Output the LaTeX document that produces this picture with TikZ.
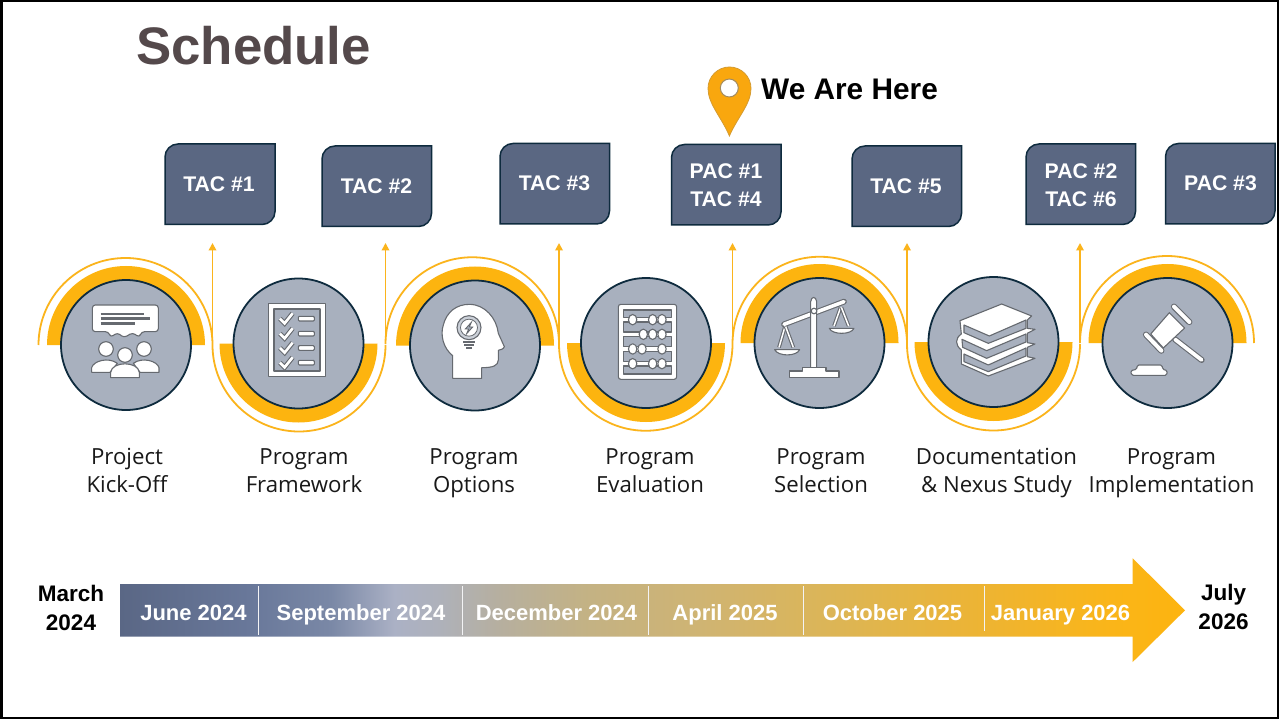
\documentclass[tikz,border=0pt]{standalone}
\usepackage{fontspec}
\setmainfont{Liberation Sans}
\newfontfamily\labelfont{Open Sans}
\usetikzlibrary{arrows.meta,calc}
\definecolor{goldc}{HTML}{FDB40F}
\definecolor{wavec}{HTML}{FBB41C}
\definecolor{boxfill}{HTML}{5A6782}
\definecolor{boxline}{HTML}{0E2B3E}
\definecolor{disc}{HTML}{A8B0BE}
\definecolor{iconline}{HTML}{666A70}
\definecolor{titlec}{HTML}{54494B}
\definecolor{pinc}{HTML}{F9A70E}
\definecolor{tlA}{HTML}{5A6785}\definecolor{tlB}{HTML}{69789A}\definecolor{tlC}{HTML}{7A88A6}
\definecolor{tlD}{HTML}{ABB1C5}\definecolor{tlE}{HTML}{AEB1BA}\definecolor{tlF}{HTML}{B6AF9F}
\definecolor{tlG}{HTML}{C4B283}\definecolor{tlH}{HTML}{CFB473}\definecolor{tlI}{HTML}{DEB552}
\definecolor{tlJ}{HTML}{EFB42F}\definecolor{tlK}{HTML}{FAB519}\definecolor{tlL}{HTML}{FDB40F}
\pgfdeclarehorizontalshading{timeline}{100bp}{color(0bp)=(tlA);color(25bp)=(tlA);color(31.1bp)=(tlB);color(34.9bp)=(tlC);color(37.9bp)=(tlD);color(40bp)=(tlE);color(42.8bp)=(tlF);color(47.1bp)=(tlG);color(52.2bp)=(tlH);color(59.3bp)=(tlI);color(66.3bp)=(tlJ);color(71.5bp)=(tlK);color(75bp)=(tlL);color(100bp)=(tlL)}
\tikzset{
  disc node/.style={circle,draw=boxline,line width=1.8pt,fill=disc,minimum size=130pt,inner sep=0pt},
  wave/.style={draw=wavec,line width=1.8pt},
  riser/.style={draw=wavec,line width=1.8pt,-{Triangle[width=7.5pt,length=7.5pt]}},
  box text/.style={text=white,font=\fontsize{21.2}{28.5}\selectfont\bfseries,align=center,inner sep=0pt},
  step label/.style={text=black!90,font=\labelfont\fontsize{22.2}{27.5}\selectfont,align=center,inner sep=0pt,
    execute at begin node={\rule{0pt}{16pt}},execute at end node={\rule[-6pt]{0pt}{6pt}}},
  tl label/.style={text=white,font=\fontsize{22}{25}\selectfont\bfseries,inner sep=0pt,anchor=base},
  end label/.style={text=black,font=\fontsize{22.5}{29}\selectfont\bfseries,align=center,inner sep=0pt},
  sep/.style={draw=white!85!tlE,line width=1pt},
  ic/.style={draw=iconline,line width=1.1pt,fill=white,line join=round},
  icg/.style={draw=iconline,line width=1.1pt,fill=disc,line join=round},
  icl/.style={draw=iconline,line width=2.5pt},
  bar/.style={draw=iconline,line width=1.1pt,double=white,double distance=#1,line cap=round},
  iconzoom/.style={shift={#1},x=.3333pt,y=-.3333pt},
}
\newcommand{\goldup}[1]{\fill[goldc] ([xshift=-79pt]#1) arc[start angle=180,end angle=0,radius=79pt] -- ([xshift=60pt]#1) arc[start angle=0,end angle=180,radius=60pt] -- cycle;}
\newcommand{\golddown}[1]{\fill[goldc] ([xshift=-79pt]#1) arc[start angle=180,end angle=360,radius=79pt] -- ([xshift=60pt]#1) arc[start angle=360,end angle=180,radius=60pt] -- cycle;}
% x1 y1 x2 y2
\newcommand{\flagbox}[4]{\draw[fill=boxfill,draw=boxline,line width=1.5pt] (#1,#2+13) arc[start angle=180,end angle=90,radius=13pt] -- (#3,#2) -- (#3,#4-13) arc[start angle=0,end angle=-90,radius=13pt] -- (#1,#4) -- cycle;}
\begin{document}
\begin{tikzpicture}[x=1pt,y=-1pt]
\useasboundingbox (0,0) rectangle (1279,719);
\fill[white] (0,0) rectangle (1279,719);
\draw[black,line width=2.6pt] (1.3,1) rectangle (1278.2,718);

\node[anchor=base west,inner sep=0pt,text=titlec,font=\fontsize{52.8}{52}\selectfont\bfseries] (title) at (136,65) {Schedule};

% pin
\draw[fill=pinc,draw=pinc!70!gray,line width=.8pt] (729.4,136) .. controls (722,118) and (708,104) .. (708,88.5) arc[start angle=180,end angle=0,radius=21.5pt] .. controls (751,104) and (737,118) .. (729.4,136) -- cycle;
\draw[fill=white,draw=gray!70!pinc,line width=1pt] (729.3,88) circle[radius=9pt];
\node[anchor=base west,inner sep=0pt,font=\fontsize{29.8}{30}\selectfont\bfseries] (here) at (761,99.3) {We Are Here};

% coordinates of the wave
\coordinate (w0) at (38.5,345);
\coordinate (w1) at (212.5,345);
\coordinate (w2) at (385.5,344);
\coordinate (w3) at (559,344);
\coordinate (w4) at (732.5,344);
\coordinate (w5) at (907,344);
\coordinate (w6) at (1080,343);
\coordinate (w7) at (1254,343);
\coordinate (t1) at (212.5,243);
\coordinate (t2) at (385.5,243);
\coordinate (t3) at (559,243);
\coordinate (t4) at (732.5,243);
\coordinate (t5) at (907,243);
\coordinate (t6) at (1080,243);

\coordinate (c1) at (126,345);
\coordinate (c2) at (298.5,343.5);
\coordinate (c3) at (475,345.5);
\coordinate (c4) at (646,343);
\coordinate (c5) at (819.5,343);
\coordinate (c6) at (993.5,342);
\coordinate (c7) at (1167.5,343);

\goldup{c1}\golddown{c2}\goldup{c3}\golddown{c4}\goldup{c5}\golddown{c6}\goldup{c7}

\path[wave] (w0) arc[start angle=180,end angle=0,radius=87pt]
            (w1) arc[start angle=180,end angle=360,radius=86.5pt]
            (w2) arc[start angle=180,end angle=0,radius=86.75pt]
            (w3) arc[start angle=180,end angle=360,radius=86.75pt]
            (w4) arc[start angle=180,end angle=0,radius=87.25pt]
            (w5) arc[start angle=180,end angle=360,radius=86.5pt]
            (w6) arc[start angle=180,end angle=0,radius=87pt];
\draw[riser] (w1) -- (t1);
\draw[riser] (w2) -- (t2);
\draw[riser] (w3) -- (t3);
\draw[riser] (w4) -- (t4);
\draw[riser] (w5) -- (t5);
\draw[riser] (w6) -- (t6);

\node[disc node] (d1) at (c1) {};
\node[disc node] (d2) at (c2) {};
\node[disc node] (d3) at (c3) {};
\node[disc node] (d4) at (c4) {};
\node[disc node] (d5) at (c5) {};
\node[disc node] (d6) at (c6) {};
\node[disc node] (d7) at (c7) {};

% boxes
\flagbox{165}{144}{275}{224.5}
\flagbox{322}{146}{431.5}{226.5}
\flagbox{500}{143.5}{609.5}{224}
\flagbox{671.5}{144.5}{781}{225}
\flagbox{852}{146}{961.5}{226.5}
\flagbox{1026}{144}{1135.5}{224.5}
\flagbox{1165.5}{143.5}{1275}{224}
\node[box text] (b1) at (219,184) {TAC \#1};
\node[box text] (b2) at (376.5,186.5) {TAC \#2};
\node[box text] (b3) at (554.5,183.5) {TAC \#3};
\node[box text] (b4) at (726,185) {PAC \#1\\TAC \#4};
\node[box text] (b5) at (906,186.5) {TAC \#5};
\node[box text] (b6) at (1081,185) {PAC \#2\\TAC \#6};
\node[box text] (b7) at (1220.5,183.5) {PAC \#3};

% step labels
\node[step label] (s1) at (127,473.4) {Project\\Kick-Off};
\node[step label] (s2) at (304,473.4) {Program\\Framework};
\node[step label] (s3) at (474,473.4) {Program\\Options};
\node[step label] (s4) at (650,473.4) {Program\\Evaluation};
\node[step label] (s5) at (821,473.4) {Program\\Selection};
\node[step label] (s6) at (996.5,473.4) {Documentation\\\& Nexus Study};
\node[step label] (s7) at (1171.5,473.4) {Program\\Implementation};

% timeline
\shade[shading=timeline] (120,584) -- (1132.7,584) -- (1132.7,558.3) -- (1185,610.3) -- (1132.7,662) -- (1132.7,636.7) -- (120,636.7) -- cycle;
\draw[sep] (258.4,586) -- (258.4,635);
\draw[sep] (462.9,586) -- (462.9,635);
\draw[sep] (648.6,586) -- (648.6,635);
\draw[sep] (803,586) -- (803,635);
\draw[sep] (984.3,586) -- (984.3,631);
\node[tl label] (l1) at (193.5,620) {June 2024};
\node[tl label] (l2) at (361,620) {September 2024};
\node[tl label] (l3) at (556.5,620) {December 2024};
\node[tl label] (l4) at (725,620) {April 2025};
\node[tl label] (l5) at (892.5,620) {October 2025};
\node[tl label] (l6) at (1060.5,620) {January 2026};
\node[end label] (m1) at (71,607.5) {March\\2024};
\node[end label] (m2) at (1223.5,606.5) {July\\2026};

% icon 1: people
\begin{scope}[iconzoom={(80,295)}]
\draw[ic,rounded corners=3pt] (37,30) -- (235,30) -- (235,110) -- (185,110) -- (178,127) -- (158,113) -- (132,128) -- (112,113) -- (92,127) -- (85,110) -- (37,110) -- cycle;
\draw[icl] (62,57) -- (193,57) (62,71) -- (210,71) (62,85) -- (165,85);
\draw[ic] (35,232) -- (35,218) .. controls (40,198) and (85,185) .. (112,205) -- (90,232) -- cycle;
\draw[ic] (237,232) -- (237,218) .. controls (232,198) and (187,185) .. (160,205) -- (180,232) -- cycle;
\draw[ic] (78,162) circle[radius=7.3pt];
\draw[ic] (192,162) circle[radius=7.3pt];
\draw[ic] (92,248) -- (92,232) .. controls (96,198) and (174,198) .. (178,232) -- (178,248) -- cycle;
\draw[ic] (135,180) circle[radius=7.3pt];
\end{scope}

% icon 2: checklist
\begin{scope}[iconzoom={(80,295)}]
\draw[ic] (565,25) rectangle (737,245);
\draw[icg] (582,42) rectangle (720,228);
\foreach \yy in {70,115,158,202}{
  \draw[draw=iconline,line width=1.1pt,double=white,double distance=2.6pt,line join=miter] (600,\yy+1) -- (614,\yy+15) -- (638,\yy-15);
  \draw[ic,rounded corners=1pt] (655,\yy-6) rectangle (703,\yy+8);
}
\end{scope}

% icon 3: head with bulb
\begin{scope}[iconzoom={(430,295)}]
\draw[ic] (155,250) -- (68,250) -- (68,182) .. controls (40,160) and (30,120) .. (40,90) .. controls (50,50) and (80,28) .. (118,28) .. controls (165,28) and (200,70) .. (205,115) -- (223,155) .. controls (222,162) and (210,165) .. (205,166) -- (205,195) .. controls (204,212) and (190,218) .. (155,218) -- cycle;
\draw[draw=iconline,line width=1.1pt,fill=disc!60!white] (117,98) circle[radius=12pt];
\draw[draw=iconline,line width=.8pt,fill=white] (117,98) circle[radius=8.5pt];
\draw[draw=iconline,line width=.9pt,fill=disc] (124,82) -- (106,102) -- (116,102) -- (110,116) -- (128,96) -- (118,96) -- cycle;
\draw[icl,line width=2pt] (100,142) -- (134,142) (103,151) -- (131,151) (109,160) -- (125,160);
\end{scope}

% icon 4: abacus
\begin{scope}[iconzoom={(430,295)}]
\draw[ic,rounded corners=2.5pt] (565,28) rectangle (740,253);
\foreach \ya/\yb in {45/67,81/111,125/155,169/199,213/237}{
  \draw[icg] (580,\ya) rectangle (725,\yb);
}
\foreach \yy/\xa/\xb/\xc in {74/608/668/696,118/640/668/696,162/608/636/696,206/608/668/696}{
  \draw[white,line width=3pt] (580,\yy) -- (725,\yy);
  \foreach \xx in {\xa,\xb,\xc}{
    \draw[ic] (\xx,\yy) ellipse[x radius=4.2pt,y radius=5.2pt];
  }
}
\end{scope}

% icon 5: scales
\begin{scope}[iconzoom={(770,290)}]
\draw[bar=3.6pt] (42,103) -- (222,35);
\draw[ic] (122,245) -- (122,35) .. controls (124,18) and (138,18) .. (140,35) -- (140,245) -- cycle;
\draw[ic] (132,63) circle[radius=2.8pt];
\draw[bar=1.5pt,line cap=butt] (45,110) -- (27,172);
\draw[bar=1.5pt,line cap=butt] (47,110) -- (70,172);
\draw[ic] (14,179) -- (89,179) .. controls (80,200) and (24,200) .. (14,179) -- cycle;
\draw[bar=1.5pt,line cap=butt] (212,52) -- (192,108);
\draw[bar=1.5pt,line cap=butt] (214,52) -- (236,108);
\draw[ic] (178,115) -- (252,115) .. controls (244,135) and (186,135) .. (178,115) -- cycle;
\draw[ic] (58,263) -- (58,243) -- (98,243) -- (98,233) -- (168,233) -- (168,243) -- (207,243) -- (207,263) -- cycle;
\end{scope}

% icon 6: books
\begin{scope}[iconzoom={(770,290)}]
\draw[ic] (570,92) -- (695,42) -- (785,78) -- (772,90) -- (772,115) -- (795,118) -- (772,130) -- (772,158) -- (795,162) -- (772,172) -- (772,200) -- (795,205) -- (655,258) -- (574,222) -- (574,180) .. controls (555,165) and (555,145) .. (574,132) -- cycle;
\draw[icg] (582,105) -- (658,138) -- (768,90) -- (768,115) -- (655,160) -- (582,128) -- cycle;
\draw[icg] (576,148) -- (650,182) -- (768,132) -- (768,156) -- (650,205) -- (578,172) -- cycle;
\draw[icg] (582,192) -- (655,225) -- (768,174) -- (768,198) -- (655,245) -- (582,215) -- cycle;
\end{scope}

% icon 7: gavel
\begin{scope}[iconzoom={(1120,300)}]
\draw[bar=3.8pt] (165,118) -- (245,180);
\draw[ic] (148,38) -- (194,84) -- (130,144) -- (92,102) -- cycle;
\draw[bar=4pt] (162,20) -- (208,66);
\draw[bar=4pt] (78,104) -- (124,152);
\draw[ic,rounded corners=1.5pt] (35,226) -- (32,212) -- (50,208) -- (52,195) -- (126,195) -- (128,208) -- (142,212) -- (140,226) -- cycle;
\end{scope}
\end{tikzpicture}
\end{document}
